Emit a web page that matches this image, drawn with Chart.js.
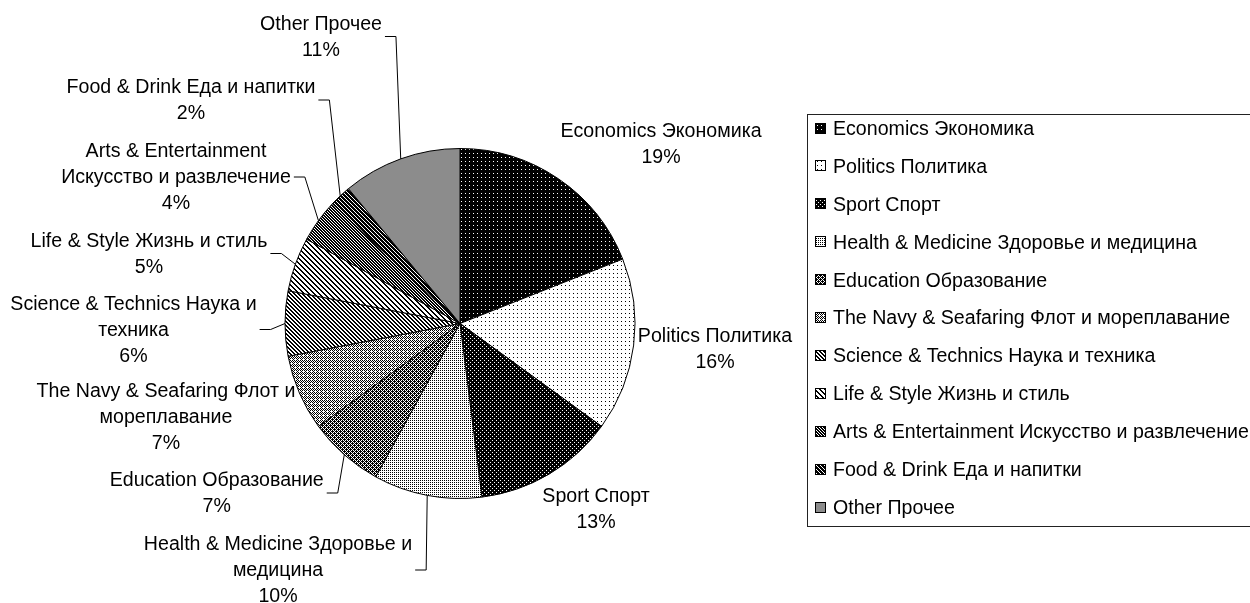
<!DOCTYPE html>
<html><head><meta charset="utf-8">
<script src="https://cdn.jsdelivr.net/npm/chart.js@4.4.1/dist/chart.umd.min.js"></script>
<style>html,body{margin:0;padding:0;background:#fff;}#wrap{width:1250px;height:603px;}</style>
</head><body><div id="wrap"><canvas id="c" width="1250" height="603"></canvas></div>
<script>
// ---- data ----
const categories = [
  "Economics Экономика",
  "Politics Политика",
  "Sport Спорт",
  "Health & Medicine Здоровье и медицина",
  "Education Образование",
  "The Navy & Seafaring Флот и мореплавание",
  "Science & Technics Наука и техника",
  "Life & Style Жизнь и стиль",
  "Arts & Entertainment Искусство и развлечение",
  "Food & Drink Еда и напитки",
  "Other Прочее"
];
const shares = [19, 16, 13, 10, 7, 7, 6, 5, 4, 2, 11];
// wrapped label text as shown beside the pie
const labelLines = [
  ["Economics Экономика"],
  ["Politics Политика"],
  ["Sport Спорт"],
  ["Health & Medicine Здоровье и", "медицина"],
  ["Education Образование"],
  ["The Navy & Seafaring Флот и", "мореплавание"],
  ["Science & Technics Наука и", "техника"],
  ["Life & Style Жизнь и стиль"],
  ["Arts & Entertainment", "Искусство и развлечение"],
  ["Food & Drink Еда и напитки"],
  ["Other Прочее"]
];

// ---- layout (label block centre offsets from pie centre) ----
const labelOffsets = [
  [201, -179.5], [255, 25.5], [136, 185.5], [-182, 246.5], [-243.3, 169.5],
  [-294, 93], [-326.5, 6], [-311, -70], [-284, -146.5], [-269, -223.5], [-139, -287]
];
const labelLeader = [false, false, false, true, true, false, true, true, true, true, true];

// ---- fill patterns ----
function gridPattern(bg, fg, rows) {
  const n = rows.length, m = rows[0].length;
  const c = document.createElement('canvas'); c.width = m; c.height = n;
  const g = c.getContext('2d');
  g.fillStyle = bg; g.fillRect(0, 0, m, n);
  g.fillStyle = fg;
  rows.forEach((r, y) => { for (let x = 0; x < m; x++) if (r[x] === 'X') g.fillRect(x, y, 1, 1); });
  return g.createPattern(c, 'repeat');
}
function diagPattern(n, t) {
  const rows = [];
  for (let y = 0; y < n; y++) {
    let r = '';
    for (let x = 0; x < n; x++) r += (((x - y) % n + n) % n) < t ? 'X' : '.';
    rows.push(r);
  }
  return gridPattern('#ffffff', '#000000', rows);
}
const fills = [
  gridPattern('#000000', '#ffffff', ["....", ".X..", "....", "...."]),
  gridPattern('#ffffff', '#000000', ["....", ".X..", "....", "...."]),
  gridPattern('#000000', '#ffffff', ["X...", "....", "..X.", "...."]),
  gridPattern('#ffffff', '#000000', ["X.X.", "....", "X.X.", "...."]),
  gridPattern('#ffffff', '#000000', ["X.X.", ".XXX", "X.X.", "XX.X"]),
  gridPattern('#ffffff', '#000000', ["X.X.", ".X.X", "X.X.", ".X.."]),
  diagPattern(4, 2),
  diagPattern(5, 2),
  diagPattern(3, 2),
  diagPattern(4, 3),
  '#8c8c8c'
];

const FONT = '"Liberation Sans", Arial, sans-serif';
const total = shares.reduce((a, b) => a + b, 0);

const labelPlugin = {
  id: 'pieLabels',
  afterDraw(chart) {
    const ctx = chart.ctx;
    const meta = chart.getDatasetMeta(0);
    ctx.save();
    ctx.fillStyle = '#000';
    ctx.strokeStyle = '#000';
    ctx.lineWidth = 1;
    ctx.textAlign = 'center';
    ctx.textBaseline = 'middle';
    ctx.font = '19.6px ' + FONT;
    const lh = 26;
    meta.data.forEach((arc, i) => {
      const p = arc.getProps(['x', 'y', 'startAngle', 'endAngle', 'outerRadius'], true);
      const lines = labelLines[i].concat([Math.round(shares[i] / total * 100) + '%']);
      const cx = p.x + labelOffsets[i][0], cy = p.y + labelOffsets[i][1];
      let maxW = 0;
      lines.forEach((t, k) => {
        maxW = Math.max(maxW, ctx.measureText(t).width);
        ctx.fillText(t, cx, cy + (k - (lines.length - 1) / 2) * lh + 1);
      });
      if (labelLeader[i]) {
        const mid = (p.startAngle + p.endAngle) / 2;
        const px = p.x + Math.cos(mid) * p.outerRadius, py = p.y + Math.sin(mid) * p.outerRadius;
        const ax = cx + maxW / 2 + 3, ex = ax + 11;
        ctx.beginPath();
        ctx.moveTo(ax, cy); ctx.lineTo(ex, cy); ctx.lineTo(px, py);
        ctx.stroke();
      }
    });
    // legend
    const lx = 807.5, ly = 114.5;
    ctx.strokeStyle = '#222';
    ctx.strokeRect(lx, ly, 480, 412);
    ctx.textAlign = 'left';
    ctx.font = '19.6px ' + FONT;
    categories.forEach((name, i) => {
      const y = 128.5 + i * 37.9;
      ctx.fillStyle = fills[i];
      ctx.fillRect(815, Math.round(y - 6), 11, 11);
      ctx.strokeStyle = '#000';
      ctx.strokeRect(815.5, Math.round(y - 6) + 0.5, 10, 10);
      ctx.fillStyle = '#000';
      ctx.fillText(name, 833, y + 1);
    });
    ctx.restore();
  }
};

new Chart(document.getElementById('c'), {
  type: 'pie',
  data: {
    labels: categories,
    datasets: [{
      data: shares,
      backgroundColor: fills,
      borderColor: '#000',
      borderWidth: 1,
      radius: 175
    }]
  },
  options: {
    responsive: false,
    animation: false,
    layout: { padding: { left: 285, right: 615, top: 148.5, bottom: 104.5 } },
    plugins: { legend: { display: false }, tooltip: { enabled: false } }
  },
  plugins: [labelPlugin]
});
</script>
</body></html>
